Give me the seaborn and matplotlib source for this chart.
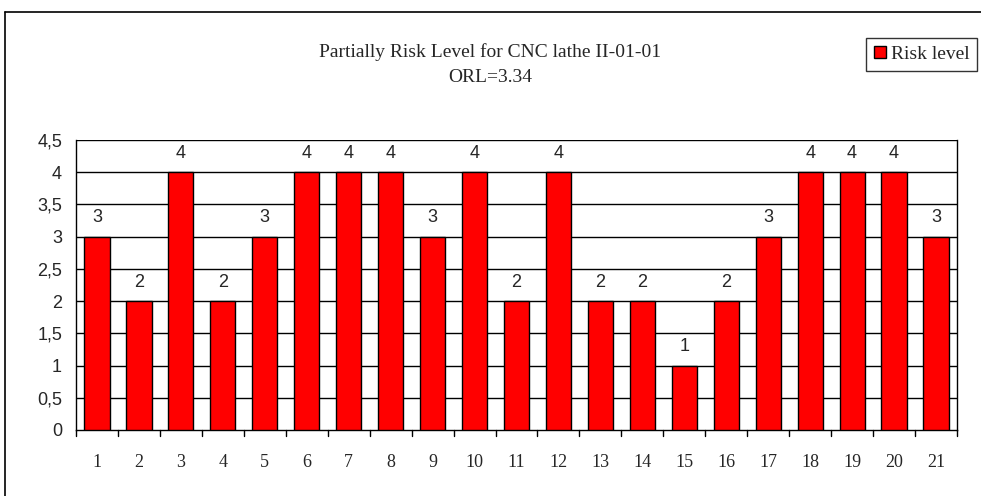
import matplotlib
matplotlib.use("Agg")
import matplotlib.pyplot as plt
from matplotlib.lines import Line2D
from matplotlib.patches import Patch
import pandas as pd
import seaborn as sns

# data
machines = [str(i) for i in range(1, 22)]
risk = [3, 2, 4, 2, 3, 4, 4, 4, 3, 4, 2, 4, 2, 2, 1, 2, 3, 4, 4, 4, 3]
y_ticks = [0, 0.5, 1, 1.5, 2, 2.5, 3, 3.5, 4, 4.5]
y_tick_labels = ["0", "0,5", "1", "1,5", "2", "2,5", "3", "3,5", "4", "4,5"]

df = pd.DataFrame({"machine": machines, "risk": risk})

sns.set_style("white")
serif = ["Liberation Serif", "DejaVu Serif"]
sans = ["Liberation Sans", "DejaVu Sans"]

fig = plt.figure(figsize=(9.81, 4.96), dpi=100)
ax = fig.add_axes([76 / 981, 1 - 430 / 496, (957 - 76) / 981, (430 - 140) / 496])

sns.barplot(data=df, x="machine", y="risk", color="#ff0000", saturation=1,
            edgecolor="black", linewidth=1, width=0.6, ax=ax, zorder=3)

ax.set_ylim(0, 4.5)
ax.set_xlim(-0.5, len(machines) - 0.5)
ax.set_yticks(y_ticks)
ax.set_yticklabels(y_tick_labels, fontsize=13, family=sans)
ax.set_xticks(range(len(machines)))
ax.set_xticklabels(machines, fontsize=13, family=serif)
ax.tick_params(axis="x", length=0, pad=17)
ax.tick_params(axis="y", direction="out", length=6, width=1, color="black", pad=4)
ax.set_xlabel("")
ax.set_ylabel("")

# Excel-style category boundary ticks
for b in range(len(machines) + 1):
    ax.add_line(Line2D([b - 0.5, b - 0.5], [0, -0.02], transform=ax.get_xaxis_transform(),
                       color="black", lw=1, clip_on=False))

for yv in y_ticks[1:]:
    ax.axhline(yv, color="black", lw=1, zorder=1)
for s in ax.spines.values():
    s.set_color("black")
    s.set_linewidth(1)
ax.spines["top"].set_visible(False)

for i, v in enumerate(risk):
    ax.text(i, v + 0.16, str(v), ha="center", va="bottom", fontsize=13, family=sans)

fig.text(0.5, 1 - 52 / 496, "Partially Risk Level for CNC lathe II-01-01",
         ha="center", va="center", fontsize=14, family=serif)
fig.text(0.5, 1 - 77 / 496, "ORL=3.34", ha="center", va="center", fontsize=14, family=serif)

leg = fig.legend(handles=[Patch(facecolor="#ff0000", edgecolor="black", label="Risk level")],
                 loc="upper right", bbox_to_anchor=(977 / 981, 1 - 38 / 496),
                 prop={"family": serif, "size": 14}, frameon=True, fancybox=False,
                 handlelength=0.6, handleheight=0.6, handletextpad=0.25,
                 borderpad=0.4, borderaxespad=0)
leg.get_frame().set_edgecolor("black")
leg.get_frame().set_linewidth(1)

# page border lines (top and left)
fig.add_artist(Line2D([5 / 981, 1], [1 - 12 / 496, 1 - 12 / 496], transform=fig.transFigure,
                      color="black", lw=1.2))
fig.add_artist(Line2D([5 / 981, 5 / 981], [0, 1 - 12 / 496], transform=fig.transFigure,
                      color="black", lw=1.2))

fig.savefig("out.png", dpi=100)
